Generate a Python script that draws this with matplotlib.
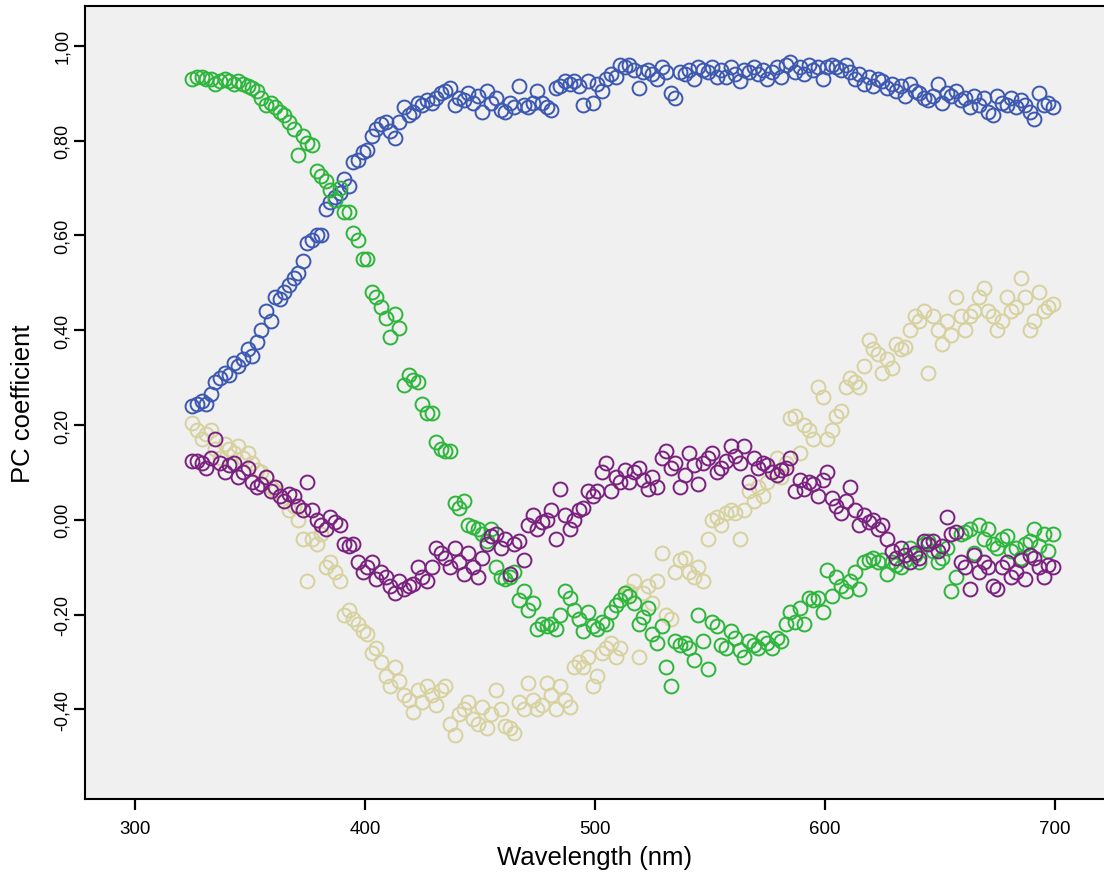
import matplotlib
matplotlib.use("Agg")
import matplotlib.pyplot as plt
import numpy as np
from matplotlib.ticker import FuncFormatter

plt.rcParams["font.family"] = ["Liberation Sans", "DejaVu Sans"]

wavelength = np.arange(325, 701, 2)

pc_blue = [
    0.24, 0.245, 0.25, 0.245, 0.265, 0.29, 0.30, 0.31, 0.305, 0.33,
    0.325, 0.34, 0.36, 0.345, 0.375, 0.40, 0.44, 0.42, 0.47, 0.465,
    0.48, 0.495, 0.51, 0.52, 0.545, 0.585, 0.59, 0.60, 0.60, 0.655,
    0.67, 0.68, 0.69, 0.72, 0.705, 0.755, 0.76, 0.775, 0.78, 0.81,
    0.825, 0.835, 0.84, 0.82, 0.805, 0.84, 0.87, 0.855, 0.86, 0.88,
    0.875, 0.885, 0.88, 0.89, 0.90, 0.905, 0.91, 0.875, 0.89, 0.885,
    0.90, 0.88, 0.895, 0.86, 0.905, 0.88, 0.89, 0.865, 0.86, 0.88,
    0.87, 0.915, 0.875, 0.87, 0.88, 0.905, 0.88, 0.87, 0.865, 0.91,
    0.915, 0.925, 0.92, 0.925, 0.915, 0.875, 0.925, 0.88, 0.92, 0.905,
    0.93, 0.94, 0.935, 0.96, 0.955, 0.96, 0.95, 0.91, 0.945, 0.95,
    0.94, 0.93, 0.955, 0.945, 0.90, 0.89, 0.945, 0.94, 0.95, 0.93,
    0.955, 0.95, 0.945, 0.955, 0.935, 0.95, 0.935, 0.955, 0.94, 0.925,
    0.95, 0.945, 0.955, 0.94, 0.95, 0.93, 0.945, 0.955, 0.935, 0.96,
    0.965, 0.945, 0.955, 0.94, 0.96, 0.95, 0.955, 0.93, 0.955, 0.96,
    0.955, 0.95, 0.96, 0.945, 0.93, 0.94, 0.92, 0.935, 0.915, 0.93,
    0.925, 0.91, 0.92, 0.905, 0.915, 0.895, 0.92, 0.905, 0.90, 0.89,
    0.885, 0.895, 0.92, 0.88, 0.90, 0.895, 0.905, 0.885, 0.89, 0.87,
    0.895, 0.875, 0.89, 0.86, 0.855, 0.895, 0.88, 0.875, 0.89, 0.87,
    0.885, 0.875, 0.86, 0.845, 0.90, 0.875, 0.88, 0.87,
]

pc_green = [
    0.93, 0.935, 0.935, 0.93, 0.93, 0.92, 0.925, 0.93, 0.925, 0.92,
    0.925, 0.92, 0.915, 0.91, 0.905, 0.89, 0.875, 0.88, 0.87, 0.86,
    0.855, 0.84, 0.825, 0.77, 0.81, 0.795, 0.79, 0.735, 0.725, 0.715,
    0.695, 0.675, 0.70, 0.65, 0.65, 0.605, 0.59, 0.55, 0.55, 0.48,
    0.47, 0.45, 0.425, 0.385, 0.435, 0.405, 0.285, 0.305, 0.295, 0.29,
    0.245, 0.225, 0.225, 0.165, 0.15, 0.145, 0.145, 0.035, 0.025, 0.04,
    -0.01, -0.015, -0.02, -0.03, -0.045, -0.02, -0.10, -0.12, -0.125, -0.12,
    -0.11, -0.17, -0.15, -0.19, -0.175, -0.23, -0.22, -0.225, -0.22, -0.23,
    -0.20, -0.15, -0.165, -0.19, -0.21, -0.235, -0.195, -0.225, -0.23, -0.215,
    -0.22, -0.195, -0.18, -0.17, -0.155, -0.16, -0.175, -0.22, -0.205, -0.185,
    -0.24, -0.26, -0.225, -0.31, -0.35, -0.255, -0.265, -0.26, -0.27, -0.295,
    -0.20, -0.255, -0.315, -0.215, -0.225, -0.265, -0.27, -0.235, -0.25, -0.275,
    -0.29, -0.255, -0.265, -0.27, -0.25, -0.26, -0.27, -0.25, -0.255, -0.22,
    -0.195, -0.215, -0.185, -0.22, -0.165, -0.17, -0.165, -0.195, -0.105, -0.16,
    -0.12, -0.14, -0.15, -0.13, -0.11, -0.145, -0.09, -0.085, -0.08, -0.09,
    -0.085, -0.115, -0.09, -0.095, -0.10, -0.085, -0.06, -0.075, -0.09, -0.05,
    -0.045, -0.065, -0.09, -0.08, -0.06, -0.15, -0.12, -0.03, -0.025, -0.02,
    -0.07, -0.01, -0.04, -0.02, -0.05, -0.06, -0.04, -0.035, -0.065, -0.06,
    -0.08, -0.05, -0.045, -0.02, -0.055, -0.03, -0.065, -0.03,
]

pc_purple = [
    0.125, 0.125, 0.12, 0.11, 0.13, 0.17, 0.12, 0.10, 0.115, 0.12,
    0.09, 0.10, 0.11, 0.08, 0.07, 0.075, 0.09, 0.06, 0.07, 0.05,
    0.04, 0.055, 0.05, 0.03, 0.02, 0.08, 0.02, 0.0, -0.01, -0.02,
    0.005, -0.005, -0.01, -0.05, -0.055, -0.05, -0.09, -0.11, -0.10, -0.09,
    -0.125, -0.11, -0.12, -0.14, -0.155, -0.13, -0.145, -0.14, -0.135, -0.10,
    -0.12, -0.13, -0.10, -0.06, -0.07, -0.08, -0.10, -0.06, -0.09, -0.115,
    -0.07, -0.10, -0.12, -0.08, -0.05, -0.035, -0.03, -0.06, -0.04, -0.115,
    -0.05, -0.045, -0.085, -0.01, 0.01, -0.02, -0.005, 0.0, 0.02, -0.04,
    0.065, 0.01, -0.02, 0.0, 0.02, 0.025, 0.06, 0.05, 0.06, 0.10,
    0.12, 0.06, 0.09, 0.08, 0.105, 0.08, 0.10, 0.11, 0.085, 0.065,
    0.09, 0.07, 0.13, 0.145, 0.11, 0.12, 0.07, 0.095, 0.14, 0.115,
    0.075, 0.12, 0.13, 0.14, 0.10, 0.11, 0.125, 0.155, 0.135, 0.12,
    0.155, 0.08, 0.13, 0.11, 0.12, 0.115, 0.10, 0.095, 0.105, 0.11,
    0.13, 0.06, 0.085, 0.065, 0.08, 0.075, 0.05, 0.085, 0.10, 0.045,
    0.03, 0.015, 0.04, 0.07, 0.02, -0.01, 0.01, -0.005, 0.0, -0.02,
    -0.01, -0.04, -0.065, -0.08, -0.06, -0.075, -0.09, -0.07, -0.08, -0.045,
    -0.05, -0.045, -0.065, -0.055, 0.005, -0.03, -0.025, -0.09, -0.10, -0.145,
    -0.075, -0.11, -0.09, -0.10, -0.14, -0.145, -0.10, -0.09, -0.12, -0.11,
    -0.085, -0.125, -0.075, -0.08, -0.10, -0.12, -0.095, -0.10,
]

pc_tan = [
    0.205, 0.19, 0.17, 0.18, 0.19, 0.15, 0.13, 0.16, 0.15, 0.14,
    0.155, 0.13, 0.14, 0.12, 0.105, 0.10, 0.09, 0.07, 0.06, 0.05,
    0.04, 0.02, 0.03, 0.0, -0.04, -0.13, -0.04, -0.05, -0.03, -0.10,
    -0.09, -0.11, -0.13, -0.20, -0.19, -0.21, -0.22, -0.235, -0.24, -0.28,
    -0.27, -0.30, -0.33, -0.35, -0.31, -0.34, -0.37, -0.38, -0.405, -0.36,
    -0.385, -0.35, -0.37, -0.39, -0.36, -0.35, -0.43, -0.455, -0.41, -0.40,
    -0.385, -0.42, -0.43, -0.395, -0.44, -0.41, -0.36, -0.40, -0.435, -0.44,
    -0.45, -0.385, -0.40, -0.345, -0.38, -0.40, -0.39, -0.345, -0.37, -0.40,
    -0.35, -0.38, -0.395, -0.31, -0.30, -0.31, -0.29, -0.35, -0.33, -0.28,
    -0.27, -0.26, -0.29, -0.27, -0.16, -0.15, -0.13, -0.29, -0.155, -0.14,
    -0.175, -0.13, -0.07, -0.20, -0.21, -0.11, -0.085, -0.08, -0.11, -0.12,
    -0.10, -0.13, -0.04, 0.0, 0.005, -0.01, 0.015, 0.02, 0.015, -0.04,
    0.02, 0.06, 0.04, 0.07, 0.05, 0.08, 0.10, 0.13, 0.09, 0.12,
    0.215, 0.22, 0.14, 0.20, 0.19, 0.17, 0.28, 0.26, 0.17, 0.19,
    0.22, 0.23, 0.28, 0.30, 0.29, 0.28, 0.325, 0.38, 0.36, 0.35,
    0.31, 0.34, 0.32, 0.37, 0.36, 0.365, 0.40, 0.43, 0.42, 0.44,
    0.31, 0.43, 0.40, 0.37, 0.42, 0.39, 0.47, 0.43, 0.40, 0.43,
    0.44, 0.47, 0.49, 0.44, 0.43, 0.40, 0.42, 0.47, 0.44, 0.45,
    0.51, 0.47, 0.40, 0.42, 0.48, 0.44, 0.45, 0.455,
]

fig = plt.figure(figsize=(11.04, 8.79), dpi=100)
ax = fig.add_axes([85 / 1104, 79 / 879, 1019 / 1104, 793 / 879])
ax.set_facecolor("#f0f0f0")

marker_kw = dict(ls="none", marker="o", mfc="none", ms=10, mew=1.4)
ax.plot(wavelength, pc_tan, color="#d6d19e", zorder=2, **marker_kw)
ax.plot(wavelength, pc_blue, color="#3d58b0", zorder=3, **marker_kw)
ax.plot(wavelength, pc_green, color="#2db53c", zorder=4, **marker_kw)
ax.plot(wavelength, pc_purple, color="#7a2180", zorder=5, **marker_kw)

ax.set_xlim(278.3, 721.3)
ax.set_ylim(-0.589, 1.084)
ax.set_xticks([300, 400, 500, 600, 700])
ax.set_yticks([-0.4, -0.2, 0.0, 0.2, 0.4, 0.6, 0.8, 1.0])
ax.yaxis.set_major_formatter(FuncFormatter(lambda v, p: f"{v:.2f}".replace(".", ",")))

ax.tick_params(axis="x", direction="out", length=8, width=1.6, labelsize=13.5, pad=7)
ax.tick_params(axis="y", direction="out", length=8, width=1.6, labelsize=13, pad=2)
plt.setp(ax.get_yticklabels(), rotation=90, va="center")

for side in ["left", "bottom", "top"]:
    ax.spines[side].set_linewidth(1.5)
ax.spines["right"].set_visible(False)

ax.set_xlabel("Wavelength (nm)", fontsize=18.5, labelpad=6)
ax.set_ylabel("PC coefficient", fontsize=18.5, labelpad=14)

fig.savefig("out.png", dpi=100)
